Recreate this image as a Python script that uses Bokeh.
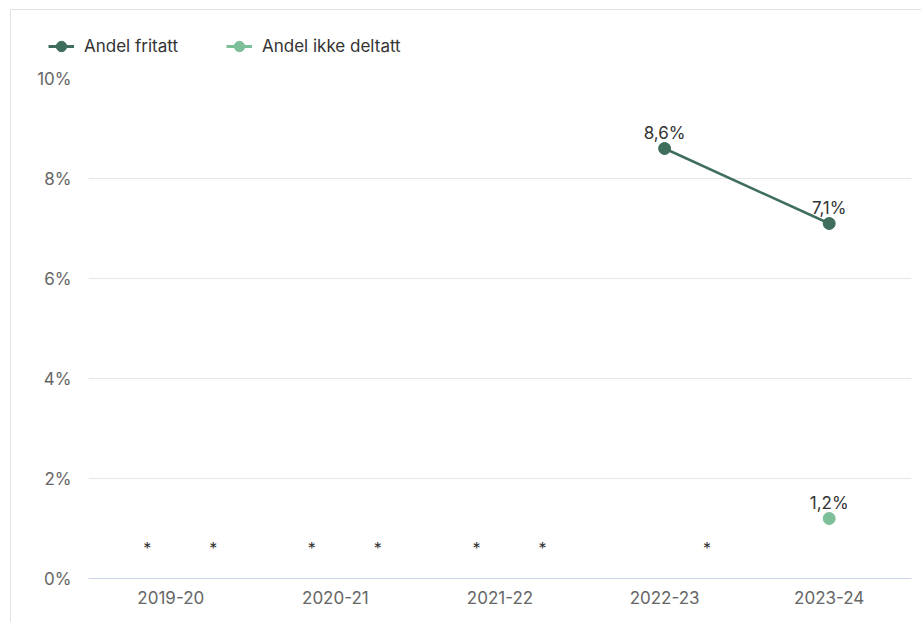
from bokeh.plotting import figure
from bokeh.layouts import column
from bokeh.models import (Range1d, FactorRange, Legend, LegendItem, ColumnDataSource,
                          FixedTicker)
from bokeh.transform import dodge
from bokeh.core.properties import value
from bokeh.embed import file_html
from bokeh.resources import INLINE

# ---- data ----
years = ["2019-20", "2020-21", "2021-22", "2022-23", "2023-24"]
fritatt = [None, None, None, 8.6, 7.1]
ikke_deltatt = [None, None, None, None, 1.2]
series_names = ["Andel fritatt", "Andel ikke deltatt"]
y_ticks = [0, 2, 4, 6, 8, 10]
y_tick_labels = ["0%", "2%", "4%", "6%", "8%", "10%"]
missing_mark = "*"
missing_level = 0.62

# ---- styles ----
DARK = "#3f6e5d"
LIGHT = "#7dbf98"
COLORS = [DARK, LIGHT]
FONT = "Inter"
FS = "17px"
nan = float("nan")
W = 910


def clean(vals):
    return [nan if v is None else v for v in vals]


def fmt(v):
    return f"{v:.1f}".replace(".", ",") + "%"


# ---- main chart ----
p = figure(x_range=FactorRange(factors=years, range_padding=0),
           y_range=Range1d(0, 10),
           width=W, height=554, output_backend="svg", toolbar_location=None,
           min_border_left=77, min_border_right=10, min_border_top=10,
           min_border_bottom=44)
p.outline_line_color = None
p.background_fill_color = "white"
p.border_fill_color = "white"

p.yaxis.ticker = FixedTicker(ticks=y_ticks)
p.yaxis.major_label_overrides = {t: l for t, l in zip(y_ticks, y_tick_labels)}
p.yaxis.axis_line_color = None
p.yaxis.major_tick_line_color = None
p.yaxis.minor_tick_line_color = None
p.yaxis.major_tick_out = 0
p.yaxis.major_label_standoff = 17
p.xaxis.axis_line_color = "#ccd6eb"
p.xaxis.major_tick_line_color = None
p.xaxis.major_tick_out = 0
p.xaxis.major_label_standoff = 12
for ax in (p.xaxis[0], p.yaxis[0]):
    ax.major_label_text_font = FONT
    ax.major_label_text_font_size = FS
    ax.major_label_text_color = "#666666"
p.xgrid.grid_line_color = None
p.ygrid.grid_line_color = "#e6e6e6"
p.ygrid.ticker = FixedTicker(ticks=y_ticks)

src1 = ColumnDataSource(dict(x=years, y=clean(fritatt)))
src2 = ColumnDataSource(dict(x=years, y=clean(ikke_deltatt)))
p.line("x", "y", source=src1, line_color=DARK, line_width=2.5)
p.scatter("x", "y", source=src1, size=12, fill_color=DARK, line_color=DARK)
p.line("x", "y", source=src2, line_color=LIGHT, line_width=2.5)
p.scatter("x", "y", source=src2, size=12, fill_color=LIGHT, line_color=LIGHT)

lab_x, lab_y, lab_t = [], [], []
for vals in (fritatt, ikke_deltatt):
    for yr, v in zip(years, vals):
        if v is not None:
            lab_x.append(yr); lab_y.append(v); lab_t.append(fmt(v))
p.text(x=lab_x, y=lab_y, text=lab_t, text_align="center", text_baseline="bottom",
       y_offset=-6, text_font=value(FONT), text_font_size=FS, text_color="#333333")

for vals, off in ((fritatt, -0.143), (ikke_deltatt, 0.258)):
    mx = [yr for yr, v in zip(years, vals) if v is None]
    msrc = ColumnDataSource(dict(x=mx, y=[missing_level] * len(mx), t=[missing_mark] * len(mx)))
    p.text(x=dodge("x", off, range=p.x_range), y="y", text="t", source=msrc,
           text_align="center", text_baseline="middle", text_font=value(FONT),
           text_font_size="16px", text_color="#333333")

# ---- legend strip ----
lg = figure(width=W, height=58, x_range=Range1d(0, W), y_range=Range1d(0, 58),
            x_axis_type=None, y_axis_type=None, output_backend="svg",
            toolbar_location=None, min_border=0)
lg.outline_line_color = None
lg.background_fill_color = "white"
lg.border_fill_color = "white"
items = []
for name, col in zip(series_names, COLORS):
    r1 = lg.line(x=[nan], y=[nan], line_color=col, line_width=3)
    r2 = lg.scatter(x=[nan], y=[nan], size=12, fill_color=col, line_color=col)
    items.append(LegendItem(label=name, renderers=[r1, r2]))
legend = Legend(items=items, orientation="horizontal", location=(37, 9),
                glyph_width=26, glyph_height=26, label_standoff=10, spacing=48,
                padding=0, margin=0, border_line_color=None, background_fill_alpha=0,
                label_text_font=FONT, label_text_font_size=FS,
                label_text_color="#333333")
lg.add_layout(legend, "center")

layout = column(column(lg), p, spacing=0)
layout.styles = {"margin-left": "10px", "margin-top": "9px",
                 "border-left": "1px solid #e3e3e3", "border-top": "1px solid #e3e3e3"}

open("out.html", "w").write(file_html(layout, INLINE))
